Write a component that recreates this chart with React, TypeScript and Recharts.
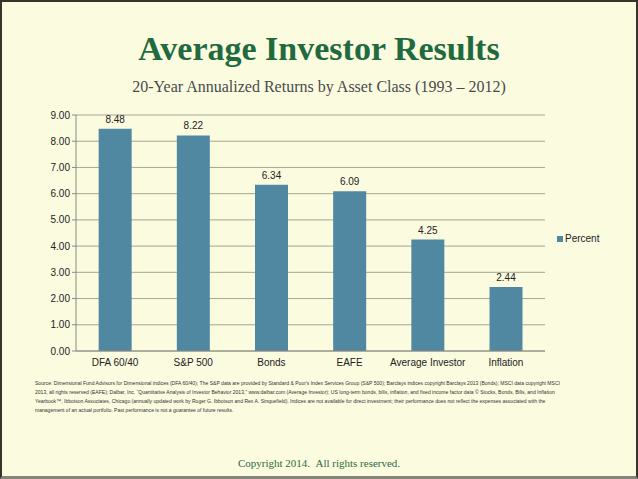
import React from "react";
import { BarChart, Bar, XAxis, YAxis, CartesianGrid, LabelList } from "recharts";

const categories = ["DFA 60/40", "S&P 500", "Bonds", "EAFE", "Average Investor", "Inflation"];
const percentValues = [8.48, 8.22, 6.34, 6.09, 4.25, 2.44];
const yTicks = [0, 1, 2, 3, 4, 5, 6, 7, 8, 9];

const sourceLines = [
    "Source: Dimensional Fund Advisors for Dimensional indices (DFA 60/40); The S&P data are provided by Standard & Poor's Index Services Group (S&P 500); Barclays indices copyright Barclays 2013 (Bonds); MSCI data copyright MSCI",
    "2013, all rights reserved (EAFE); Dalbar, Inc. \u201cQuantitative Analysis of Investor Behavior 2013,\u201d www.dalbar.com (Average Investor); US long-term bonds, bills, inflation, and fixed income factor data \u00a9 Stocks, Bonds, Bills, and Inflation",
    "Yearbook\u2122, Ibbotson Associates, Chicago (annually updated work by Roger G. Ibbotson and Rex A. Sinquefield). Indices are not available for direct investment; their performance does not reflect the expenses associated with the",
    "management of an actual portfolio. Past performance is not a guarantee of future results.",
];

const data = categories.map((name, i) => ({ name, Percent: percentValues[i] }));

const BAR_COLOR = "#5088a2";

const App: React.FC = () => {
    return (
        <div
            style={{
                position: "absolute",
                left: 0,
                top: 0,
                width: 638,
                height: 479,
                boxSizing: "border-box",
                background: "#fbfbe0",
                borderLeft: "2px solid #35352c",
                borderTop: "2px solid #35352c",
                borderRight: "2px solid #35352c",
                borderBottom: "3px solid #85857a",
                overflow: "hidden",
            }}
        >
            <div style={{ position: "absolute", left: -2, top: 0, width: 638, height: 479 }}>
                <div
                    style={{
                        position: "absolute",
                        top: 28,
                        width: 638,
                        textAlign: "center",
                        fontFamily: "'Liberation Serif', 'DejaVu Serif', serif",
                        fontWeight: "bold",
                        fontSize: 34,
                        color: "#1f6a3e",
                    }}
                >
                    Average Investor Results
                </div>
                <div
                    style={{
                        position: "absolute",
                        top: 76,
                        width: 638,
                        textAlign: "center",
                        fontFamily: "'Liberation Serif', serif",
                        fontSize: 16,
                        color: "#4a4a4a",
                    }}
                >
                    20-Year Annualized Returns by Asset Class (1993 – 2012)
                </div>

                <div style={{ position: "absolute", left: 0, top: 0 }}>
                    <BarChart
                        width={638}
                        height={380}
                        data={data}
                        margin={{ top: 113, right: 93, left: 0, bottom: 0 }}
                        barCategoryGap="29%"
                    >
                        <CartesianGrid vertical={false} stroke="#a6a694" />
                        <XAxis
                            dataKey="name"
                            height={31}
                            stroke="#8a8a80"
                            tickLine={false}
                            tick={{ fill: "#222", fontSize: 10, fontFamily: "'Liberation Sans', Arial, sans-serif" }}
                        />
                        <YAxis
                            width={76}
                            domain={[0, 9]}
                            ticks={yTicks}
                            interval={0}
                            stroke="#8a8a80"
                            tickSize={4}
                            tickFormatter={(v: number) => v.toFixed(2)}
                            tick={{ fill: "#222", fontSize: 10, fontFamily: "'Liberation Sans', Arial, sans-serif" }}
                        />
                        <Bar dataKey="Percent" fill={BAR_COLOR} isAnimationActive={false}>
                            <LabelList
                                dataKey="Percent"
                                position="top"
                                offset={6}
                                formatter={(v: number) => v.toFixed(2)}
                                style={{ fill: "#222", fontSize: 10, fontFamily: "'Liberation Sans', Arial, sans-serif" }}
                            />
                        </Bar>
                    </BarChart>
                </div>

                <div
                    style={{
                        position: "absolute",
                        left: 557,
                        top: 231,
                        display: "flex",
                        alignItems: "center",
                        fontFamily: "'Liberation Sans', Arial, sans-serif",
                        fontSize: 10,
                        color: "#222",
                    }}
                >
                    <span style={{ display: "inline-block", width: 6, height: 6, background: BAR_COLOR, marginRight: 2 }} />
                    Percent
                </div>

                <div
                    style={{
                        position: "absolute",
                        left: 35,
                        top: 377,
                        fontFamily: "'Liberation Sans', Arial, sans-serif",
                        fontSize: 5.05,
                        lineHeight: "9px",
                        color: "#333",
                        whiteSpace: "nowrap",
                    }}
                >
                    {sourceLines.map((line, i) => (
                        <div key={i}>{line}</div>
                    ))}
                </div>

                <div
                    style={{
                        position: "absolute",
                        top: 455,
                        width: 638,
                        textAlign: "center",
                        fontFamily: "'Liberation Serif', serif",
                        fontSize: 11,
                        color: "#2d6a44",
                    }}
                >
                    Copyright 2014.&nbsp;&nbsp;All rights reserved.
                </div>
            </div>
        </div>
    );
};

export default App;
